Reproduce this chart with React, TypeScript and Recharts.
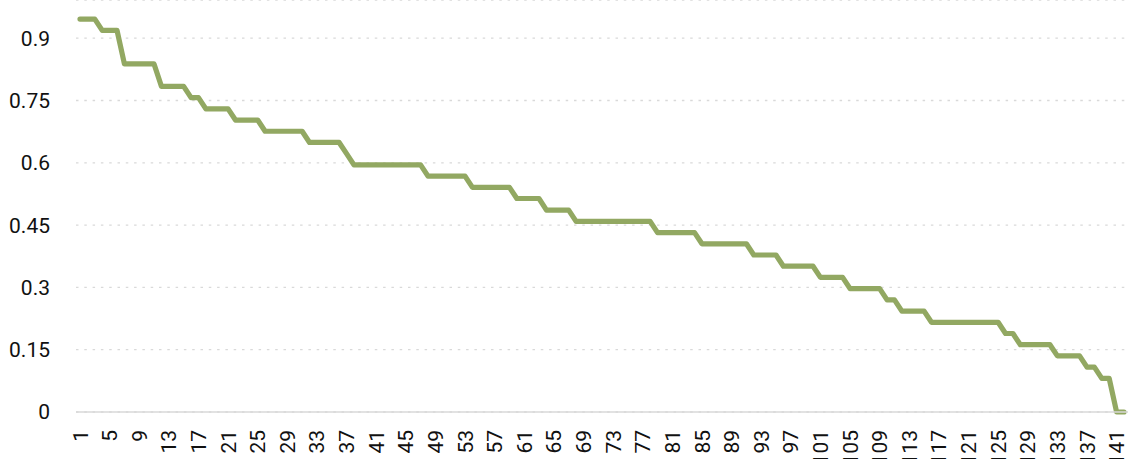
import { CartesianGrid, Line, LineChart, XAxis, YAxis } from 'recharts';

const SHARE = [
  0.946, 0.946, 0.946, 0.919, 0.919, 0.919, 0.838, 0.838, 0.838, 0.838,
  0.838, 0.784, 0.784, 0.784, 0.784, 0.757, 0.757, 0.73, 0.73, 0.73,
  0.73, 0.703, 0.703, 0.703, 0.703, 0.676, 0.676, 0.676, 0.676, 0.676,
  0.676, 0.649, 0.649, 0.649, 0.649, 0.649, 0.622, 0.595, 0.595, 0.595,
  0.595, 0.595, 0.595, 0.595, 0.595, 0.595, 0.595, 0.568, 0.568, 0.568,
  0.568, 0.568, 0.568, 0.541, 0.541, 0.541, 0.541, 0.541, 0.541, 0.514,
  0.514, 0.514, 0.514, 0.486, 0.486, 0.486, 0.486, 0.459, 0.459, 0.459,
  0.459, 0.459, 0.459, 0.459, 0.459, 0.459, 0.459, 0.459, 0.432, 0.432,
  0.432, 0.432, 0.432, 0.432, 0.405, 0.405, 0.405, 0.405, 0.405, 0.405,
  0.405, 0.378, 0.378, 0.378, 0.378, 0.351, 0.351, 0.351, 0.351, 0.351,
  0.324, 0.324, 0.324, 0.324, 0.297, 0.297, 0.297, 0.297, 0.297, 0.27,
  0.27, 0.243, 0.243, 0.243, 0.243, 0.216, 0.216, 0.216, 0.216, 0.216,
  0.216, 0.216, 0.216, 0.216, 0.216, 0.189, 0.189, 0.162, 0.162, 0.162,
  0.162, 0.162, 0.135, 0.135, 0.135, 0.135, 0.108, 0.108, 0.081, 0.081,
  0, 0,
];

// ranks 1..142
const RANKS = SHARE.map((_, i) => String(i + 1));

const Y_TICKS = [0, 0.15, 0.3, 0.45, 0.6, 0.75, 0.9];

const data = RANKS.map((rank, i) => ({ rank, share: SHARE[i] }));

function RankTick({ x, y, payload }: any) {
  return (
    <text
      x={x}
      y={y}
      transform={`rotate(-90, ${x}, ${y})`}
      textAnchor="end"
      dy="0.36em"
      fontSize={21}
      fontFamily="'Liberation Sans Narrow', 'Arial Narrow', Roboto, sans-serif"
      fill="#111"
    >
      {payload.value}
    </text>
  );
}

export default function App() {
  return (
    <div style={{ position: 'absolute', left: 0, top: 0, background: '#fff' }}>
      <LineChart width={1128} height={459} data={data} margin={{ top: 0, right: 0, bottom: 0, left: 0 }}>
        <CartesianGrid vertical={false} stroke="#d9d9d9" strokeDasharray="2.5 5.8" strokeWidth={1.3} />
        <XAxis
          dataKey="rank"
          interval={3}
          height={47}
          padding={{ left: 4, right: 4 }}
          tickLine={false}
          tickSize={0}
          tickMargin={18}
          axisLine={{ stroke: '#d9d9d9', strokeWidth: 1.5 }}
          tick={<RankTick />}
        />
        <YAxis
          width={76}
          domain={[0, 0.992]}
          ticks={Y_TICKS}
          axisLine={false}
          tickLine={false}
          tickSize={0}
          tickMargin={26}
          tick={{ fontSize: 21, fontFamily: 'Roboto, sans-serif', fill: '#111' }}
        />
        <Line
          dataKey="share"
          type="linear"
          stroke="#92a862"
          strokeWidth={5.2}
          strokeLinejoin="round"
          strokeLinecap="round"
          dot={false}
          isAnimationActive={false}
        />
      </LineChart>
    </div>
  );
}
